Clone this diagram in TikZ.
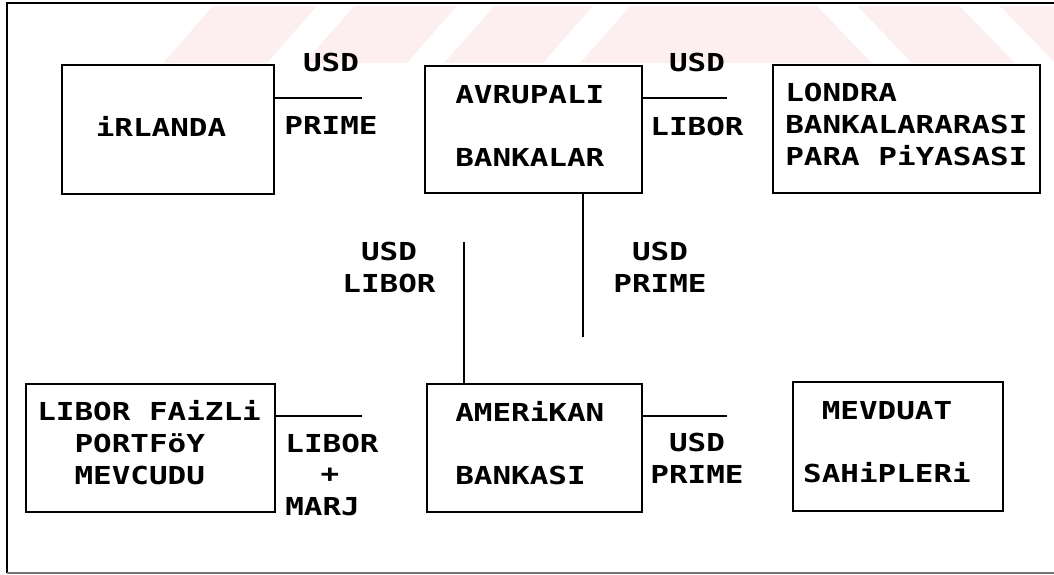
\documentclass[tikz,border=0pt]{standalone}
\usepackage{fontspec}
\newfontfamily\dotfont[FakeStretch=1.25]{DejaVu Sans Mono}
\definecolor{wmpink}{RGB}{253,238,240}
\begin{document}
\begin{tikzpicture}[x=0.025cm,y=-0.025cm,
  box/.style={draw,line width=1.4pt,inner sep=0pt},
  conn/.style={line width=1.4pt},
  lbl/.style={inner sep=0pt,font=\dotfont\bfseries\fontsize{17.6}{22.8}\selectfont},
  mlbl/.style={lbl,align=center},
  llbl/.style={lbl,align=left}]
\useasboundingbox (0,0) rectangle (1054,574);
% watermark band
\fill[wmpink] (213,6) -- (1054,6) -- (1054,63) -- (163,63) -- cycle;
\foreach \t in {317,457,593}{
  \fill[white] (\t,6) -- (\t+37,6) -- (\t-13,63) -- (\t-50,63) -- cycle;}
\foreach \t in {817,960}{
  \fill[white] (\t,6) -- (\t+40,6) -- (\t+95,63) -- (\t+55,63) -- cycle;}
% outer frame
\draw[line width=1.3pt] (1054,3) -- (7,3) -- (7,573);
\draw[line width=0.8pt,black!55] (7,573) -- (1054,573);
% boxes
\node[box,minimum width=5.3cm,minimum height=3.225cm] (irl) at (168,129.5) {};
\node[box,minimum width=5.425cm,minimum height=3.175cm] (avr) at (533.5,129.5) {};
\node[box,minimum width=6.675cm,minimum height=3.2cm] (lon) at (906.5,129) {};
\node[box,minimum width=6.225cm,minimum height=3.2cm] (lib) at (150.5,448) {};
\node[box,minimum width=5.375cm,minimum height=3.2cm] (ame) at (534.5,448) {};
\node[box,minimum width=5.25cm,minimum height=3.225cm] (mev) at (898,446.5) {};
% box texts
\node[lbl] (irlt) at (161,126) {iRLANDA};
\node[llbl,anchor=west] (avrt) at (455,125.5) {AVRUPALI\\[22pt]BANKALAR};
\node[llbl,anchor=west] (lont) at (785,124.5) {LONDRA\\BANKALARARASI\\PARA PiYASASI};
\node[llbl,anchor=west] (libt) at (37,443) {LIBOR FAiZLi\\\phantom{LI}PORTFöY\\\phantom{LI}MEVCUDU};
\node[llbl,anchor=west] (amet) at (455,443.5) {AMERiKAN\\[22pt]BANKASI};
\node[mlbl] (mevt) at (887,442) {MEVDUAT\\[22pt]SAHiPLERi};
% connector ends
\coordinate (e1) at (362,98);
\coordinate (e2) at (727,98);
\coordinate (e3) at (583,337);
\coordinate (e4) at (464,242);
\coordinate (e5) at (362,416);
\coordinate (e6) at (727,416);
\draw[conn] (e1 -| irl.east) -- (e1);
\draw[conn] (e2 -| avr.east) -- (e2);
\draw[conn] (e3 |- avr.south) -- (e3);
\draw[conn] (e4) -- (e4 |- ame.north);
\draw[conn] (e5 -| lib.east) -- (e5);
\draw[conn] (e6 -| ame.east) -- (e6);
% connector labels
\node[lbl] (l1a) at (331,62) {USD};
\node[lbl] (l1b) at (331,125) {PRIME};
\node[lbl] (l2a) at (697,62) {USD};
\node[lbl] (l2b) at (697,126) {LIBOR};
\node[mlbl] (l3) at (389,267.5) {USD\\LIBOR};
\node[mlbl] (l4) at (660,267.5) {USD\\PRIME};
\node[lbl] (l5a) at (332,443) {LIBOR};
\node[lbl] (l5b) at (330,475) {+};
\node[lbl,anchor=west] (l5c) at (285,507) {MARJ};
\node[mlbl] (l6) at (697,458) {USD\\PRIME};
\end{tikzpicture}
\end{document}
